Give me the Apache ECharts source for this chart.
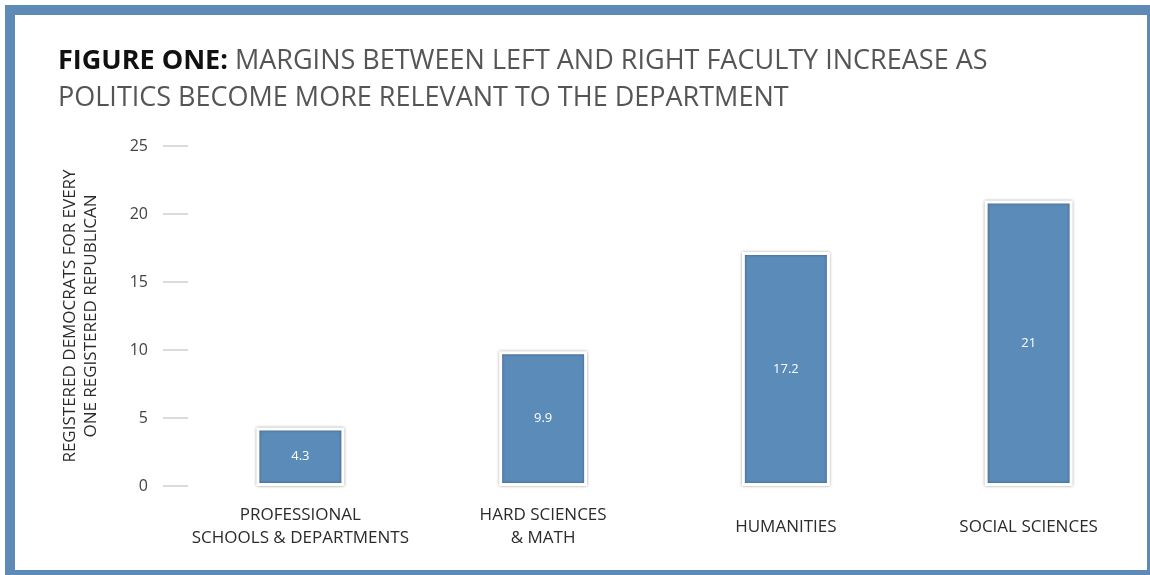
<!DOCTYPE html>
<html><head><meta charset="utf-8">
<script src="https://cdn.jsdelivr.net/npm/echarts@6/dist/echarts.min.js"></script>
<style>html,body{margin:0;padding:0;background:#fff}#c{width:1150px;height:575px}</style>
</head><body><div id="c"></div>
<script>
const categories = ['PROFESSIONAL\nSCHOOLS & DEPARTMENTS', 'HARD SCIENCES\n& MATH', 'HUMANITIES', 'SOCIAL SCIENCES'];
const values = [4.3, 9.9, 17.2, 21];
const yTicks = [0, 5, 10, 15, 20, 25];
const titleBold = 'FIGURE ONE:';
const titleRest1 = ' MARGINS BETWEEN LEFT AND RIGHT FACULTY INCREASE AS';
const titleLine2 = 'POLITICS BECOME MORE RELEVANT TO THE DEPARTMENT';
const yName = 'REGISTERED DEMOCRATS FOR EVERY\nONE REGISTERED REPUBLICAN';

const chart = echarts.init(document.getElementById('c'));
chart.setOption({
  animation: false,
  backgroundColor: '#fff',
  textStyle: { fontFamily: 'Open Sans' },
  graphic: [{
    type: 'rect', silent: true,
    shape: { x: 10, y: 10, width: 1142, height: 565 },
    style: { fill: 'none', stroke: '#5d8ab7', lineWidth: 10 }
  }],
  title: {
    text: '{b|' + titleBold + '}{n|' + titleRest1 + '}\n{n|' + titleLine2 + '}',
    left: 53, top: 38,
    textStyle: {
      rich: {
        b: { fontFamily: 'Open Sans', fontWeight: 'bold', fontSize: 27, color: '#111', lineHeight: 37 },
        n: { fontFamily: 'Open Sans', fontWeight: 'normal', fontSize: 27, color: '#555', lineHeight: 37 }
      }
    }
  },
  grid: { left: 179, right: 0, top: 146, bottom: 89, containLabel: false },
  xAxis: {
    type: 'category', data: categories,
    axisLine: { show: false }, axisTick: { show: false },
    axisLabel: { color: '#2b2b2b', fontSize: 17, fontFamily: 'Open Sans', margin: 41, verticalAlign: 'middle', lineHeight: 23, interval: 0 }
  },
  yAxis: {
    type: 'value', min: 0, max: 25, interval: 5, offset: -9,
    name: yName, nameLocation: 'middle', nameGap: 86, nameRotate: 90,
    nameTextStyle: { color: '#2b2b2b', fontSize: 17, fontFamily: 'Open Sans', lineHeight: 21 },
    axisLine: { show: false },
    axisTick: { show: true, length: 25, lineStyle: { color: '#cfcfcf', width: 1.5 } },
    axisLabel: { color: '#444', fontSize: 16, margin: 40, formatter: v => yTicks.includes(v) ? String(v) : '' },
    splitLine: { show: false }
  },
  series: [{
    type: 'bar', data: values, barWidth: 88,
    itemStyle: { color: '#5b8bb9', borderColor: '#fff', borderWidth: 3, shadowColor: 'rgba(0,0,0,0.35)', shadowBlur: 3 },
    label: { show: true, position: 'inside', color: '#fff', fontSize: 13, fontFamily: 'Open Sans' }
  }]
});
</script></body></html>
